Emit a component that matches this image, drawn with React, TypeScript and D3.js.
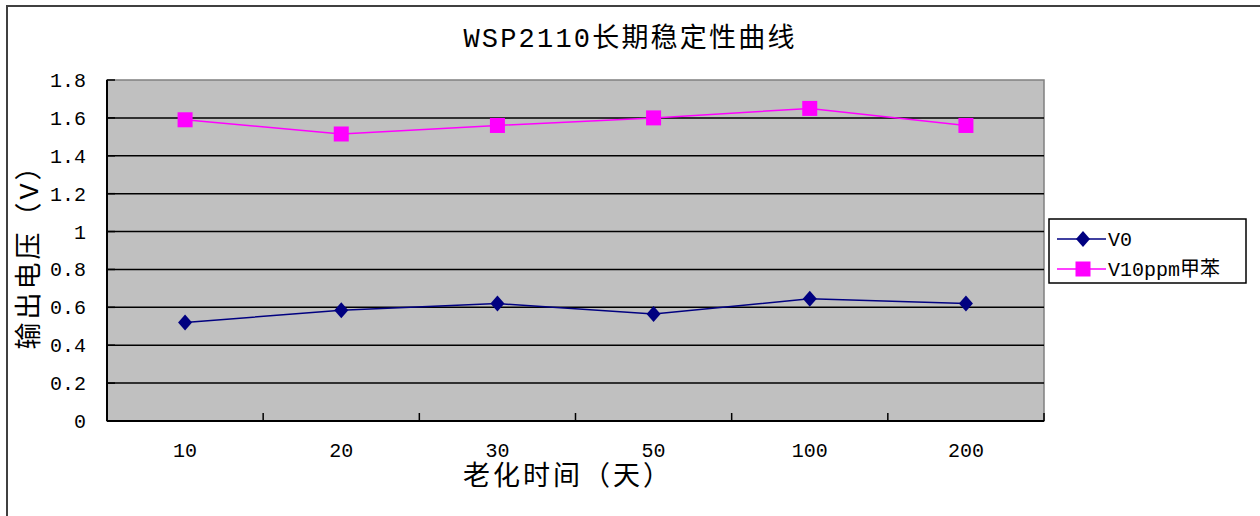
import React from "react";
import * as d3 from "d3";

const categories = ["10", "20", "30", "50", "100", "200"];
const seriesV0 = [0.52, 0.585, 0.62, 0.565, 0.645, 0.62];
const seriesV10 = [1.59, 1.515, 1.56, 1.6, 1.65, 1.56];
const yTicks = [0, 0.2, 0.4, 0.6, 0.8, 1, 1.2, 1.4, 1.6, 1.8];
const seriesNames = ["V0", "V10ppm甲苯"];
const title = "WSP2110长期稳定性曲线";
const xTitle = "老化时间（天）";
const yTitle = "输出电压（V）";

const FONT = "'Liberation Mono', 'Noto Sans CJK SC', monospace";

export default function App() {
  const W = 1260, H = 516;
  const pl = 107, pr = 1044, pt = 80, pb = 421;
  const x = d3.scaleBand<string>().domain(categories).range([pl, pr]).padding(0);
  const y = d3.scaleLinear().domain([0, 1.8]).range([pb, pt]);
  const cx = (c: string) => (x(c) as number) + x.bandwidth() / 2;
  const line = d3.line<number>().x((_, i) => cx(categories[i])).y((d) => y(d));
  const navy = "#000080", mag = "#FF00FF";
  const diamond = (px: number, py: number, w = 7, h = 8) =>
    `M${px},${py - h}L${px + w},${py}L${px},${py + h}L${px - w},${py}Z`;
  const fmt = (v: number) => (v === 0 || v === 1 ? String(v) : v.toFixed(1));
  return (
    <svg width={W} height={H} style={{ position: "absolute", left: 0, top: 0, background: "#fff" }}>
      <rect x={7} y={6} width={1262} height={520} fill="#fff" stroke="#404040" strokeWidth={2} />
      <text x={630} y={47} textAnchor="middle" fontFamily={FONT} fontSize={27} letterSpacing={2.2} fill="#000">{title}</text>
      <rect x={pl} y={pt} width={pr - pl} height={pb - pt} fill="#C0C0C0" stroke="#808080" strokeWidth={1.5} />
      {yTicks.map((t) => (
        <g key={t}>
          {t > 0 && t < 1.8 && <line x1={pl} x2={pr} y1={y(t)} y2={y(t)} stroke="#000" strokeWidth={1.5} />}
          <line x1={pl} x2={pl + 8} y1={y(t)} y2={y(t)} stroke="#000" strokeWidth={1.5} />
          <text x={86} y={y(t) + 7} textAnchor="end" fontFamily={FONT} fontSize={20} fill="#000">{fmt(t)}</text>
        </g>
      ))}
      <line x1={pl} x2={pl} y1={pt} y2={pb} stroke="#000" strokeWidth={2} />
      <line x1={pl} x2={pr} y1={pb} y2={pb} stroke="#000" strokeWidth={2} />
      {categories.map((c, i) => (
        <g key={c}>
          {i > 0 && <line x1={x(c)} x2={x(c)} y1={pb} y2={pb - 8} stroke="#000" strokeWidth={1.5} />}
          <text x={cx(c)} y={457} textAnchor="middle" fontFamily={FONT} fontSize={20} fill="#000">{c}</text>
        </g>
      ))}
      <line x1={pr} x2={pr} y1={pb} y2={pb - 8} stroke="#000" strokeWidth={1.5} />
      <path d={line(seriesV10) || ""} fill="none" stroke={mag} strokeWidth={1.5} />
      <path d={line(seriesV0) || ""} fill="none" stroke={navy} strokeWidth={1.5} />
      {seriesV10.map((v, i) => (
        <rect key={"s" + i} x={cx(categories[i]) - 7.5} y={y(v) - 7.5} width={15} height={15} fill={mag} />
      ))}
      {seriesV0.map((v, i) => (
        <path key={"d" + i} d={diamond(cx(categories[i]), y(v))} fill={navy} />
      ))}
      <text x={568} y={485} textAnchor="middle" fontFamily={FONT} fontSize={27} letterSpacing={3} fill="#000">{xTitle}</text>
      <text transform={`translate(38,250) rotate(-90)`} textAnchor="middle" fontFamily={FONT} fontSize={27} letterSpacing={3} fill="#000">{yTitle}</text>
      <rect x={1049} y={219} width={197} height={64} fill="#fff" stroke="#000" strokeWidth={1.5} />
      <line x1={1057} x2={1106} y1={239} y2={239} stroke={navy} strokeWidth={1.5} />
      <path d={diamond(1083, 239)} fill={navy} />
      <text x={1108} y={246} fontFamily={FONT} fontSize={20} fill="#000">{seriesNames[0]}</text>
      <line x1={1057} x2={1106} y1={269} y2={269} stroke={mag} strokeWidth={1.5} />
      <rect x={1075.5} y={261.5} width={15} height={15} fill={mag} />
      <text x={1108} y={276} fontFamily={FONT} fontSize={20} fill="#000">{seriesNames[1]}</text>
    </svg>
  );
}
